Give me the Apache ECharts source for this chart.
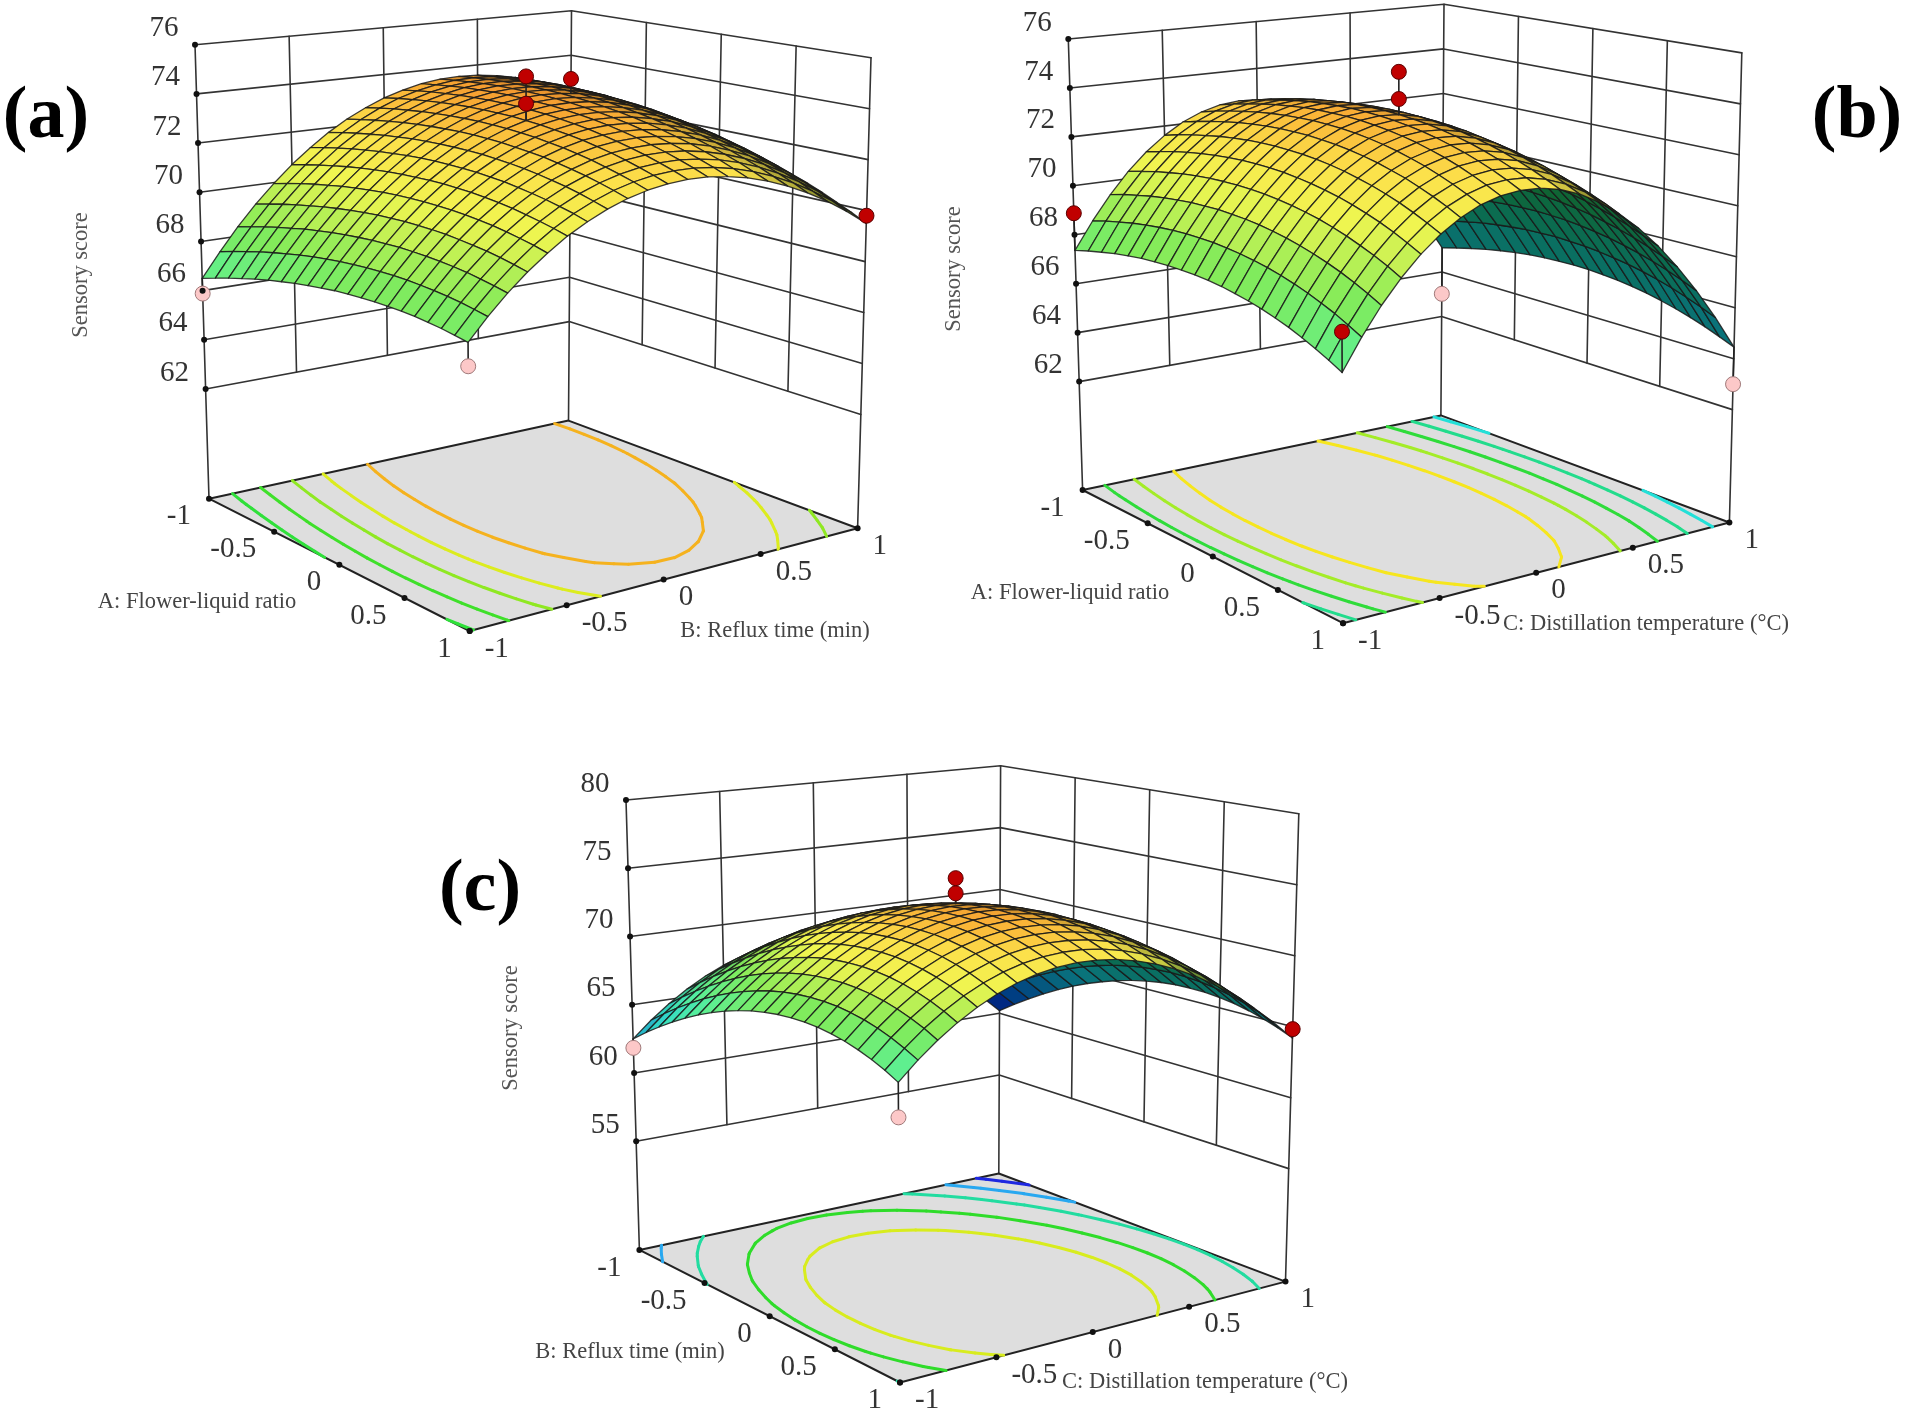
<!DOCTYPE html>
<html>
<head>
<meta charset="utf-8">
<script src="https://cdn.jsdelivr.net/npm/echarts@6/dist/echarts.min.js"></script>
<style>html,body{margin:0;padding:0;background:#fff}#main{width:1907px;height:1413px}</style>
</head>
<body>
<div id="main"></div>
<script>
const axisTicks = [-1, -0.5, 0, 0.5, 1];

// response surfaces, rows run along the first factor, columns along the second (-1 to 1, step 0.1)
const surfaceA = [
    [66.50, 67.47, 68.38, 69.21, 69.96, 70.65, 71.26, 71.81, 72.28, 72.67, 73.00, 73.25, 73.44, 73.55, 73.58, 73.55, 73.44, 73.27, 73.02, 72.69, 72.30],
    [66.70, 67.67, 68.56, 69.38, 70.13, 70.80, 71.41, 71.94, 72.40, 72.79, 73.11, 73.35, 73.52, 73.62, 73.65, 73.61, 73.49, 73.30, 73.04, 72.71, 72.31],
    [66.89, 67.84, 68.73, 69.54, 70.28, 70.94, 71.54, 72.06, 72.51, 72.89, 73.19, 73.43, 73.59, 73.68, 73.70, 73.65, 73.52, 73.32, 73.05, 72.71, 72.30],
    [67.06, 68.01, 68.88, 69.68, 70.41, 71.06, 71.65, 72.16, 72.60, 72.97, 73.27, 73.49, 73.65, 73.73, 73.74, 73.67, 73.54, 73.33, 73.05, 72.70, 72.28],
    [67.22, 68.15, 69.01, 69.80, 70.52, 71.17, 71.75, 72.25, 72.68, 73.04, 73.33, 73.54, 73.68, 73.76, 73.75, 73.68, 73.54, 73.32, 73.03, 72.67, 72.24],
    [67.36, 68.28, 69.14, 69.92, 70.63, 71.26, 71.83, 72.32, 72.74, 73.09, 73.37, 73.57, 73.71, 73.77, 73.76, 73.68, 73.52, 73.29, 73.00, 72.62, 72.18],
    [67.48, 68.40, 69.24, 70.01, 70.71, 71.34, 71.89, 72.38, 72.79, 73.13, 73.40, 73.59, 73.72, 73.77, 73.75, 73.65, 73.49, 73.25, 72.94, 72.56, 72.11],
    [67.59, 68.50, 69.33, 70.09, 70.78, 71.40, 71.95, 72.42, 72.82, 73.15, 73.41, 73.59, 73.71, 73.75, 73.72, 73.62, 73.44, 73.20, 72.88, 72.49, 72.03],
    [67.68, 68.58, 69.40, 70.16, 70.84, 71.44, 71.98, 72.44, 72.84, 73.16, 73.40, 73.58, 73.68, 73.72, 73.68, 73.56, 73.38, 73.12, 72.80, 72.40, 71.92],
    [67.76, 68.65, 69.46, 70.21, 70.88, 71.47, 72.00, 72.45, 72.84, 73.15, 73.39, 73.55, 73.65, 73.67, 73.62, 73.50, 73.30, 73.04, 72.70, 72.29, 71.81],
    [67.83, 68.70, 69.51, 70.24, 70.90, 71.49, 72.00, 72.45, 72.82, 73.12, 73.35, 73.51, 73.59, 73.60, 73.54, 73.41, 73.21, 72.93, 72.59, 72.17, 71.68],
    [67.87, 68.74, 69.53, 70.26, 70.91, 71.49, 71.99, 72.43, 72.79, 73.08, 73.30, 73.45, 73.52, 73.52, 73.46, 73.31, 73.10, 72.82, 72.46, 72.03, 71.53],
    [67.90, 68.76, 69.55, 70.26, 70.90, 71.47, 71.97, 72.39, 72.74, 73.03, 73.23, 73.37, 73.44, 73.43, 73.35, 73.20, 72.98, 72.68, 72.31, 71.87, 71.36],
    [67.92, 68.77, 69.54, 70.25, 70.88, 71.44, 71.92, 72.34, 72.68, 72.95, 73.15, 73.28, 73.34, 73.32, 73.23, 73.07, 72.84, 72.53, 72.16, 71.71, 71.19],
    [67.92, 68.76, 69.52, 70.22, 70.84, 71.39, 71.87, 72.27, 72.61, 72.87, 73.06, 73.17, 73.22, 73.19, 73.09, 72.92, 72.68, 72.37, 71.98, 71.52, 70.99],
    [67.91, 68.73, 69.49, 70.17, 70.79, 71.33, 71.79, 72.19, 72.51, 72.76, 72.94, 73.05, 73.09, 73.05, 72.94, 72.76, 72.51, 72.19, 71.79, 71.32, 70.78],
    [67.88, 68.69, 69.44, 70.11, 70.72, 71.25, 71.70, 72.09, 72.40, 72.65, 72.82, 72.91, 72.94, 72.89, 72.78, 72.59, 72.32, 71.99, 71.58, 71.11, 70.56],
    [67.83, 68.64, 69.38, 70.04, 70.63, 71.15, 71.60, 71.98, 72.28, 72.51, 72.67, 72.76, 72.78, 72.72, 72.59, 72.39, 72.12, 71.78, 71.36, 70.88, 70.32],
    [67.77, 68.57, 69.29, 69.95, 70.53, 71.04, 71.48, 71.85, 72.14, 72.36, 72.51, 72.59, 72.60, 72.53, 72.40, 72.19, 71.91, 71.55, 71.13, 70.63, 70.06],
    [67.69, 68.48, 69.20, 69.84, 70.42, 70.92, 71.35, 71.70, 71.99, 72.20, 72.34, 72.41, 72.41, 72.33, 72.18, 71.96, 71.67, 71.31, 70.87, 70.37, 69.79],
    [67.60, 68.38, 69.09, 69.72, 70.28, 70.78, 71.19, 71.54, 71.82, 72.02, 72.15, 72.21, 72.20, 72.11, 71.95, 71.72, 71.42, 71.05, 70.61, 70.09, 69.50]
];
const surfaceB = [
    [67.36, 68.46, 69.44, 70.30, 71.02, 71.61, 72.08, 72.41, 72.62, 72.70, 72.65, 72.47, 72.17, 71.73, 71.16, 70.47, 69.65, 68.70, 67.62, 66.41, 65.08],
    [67.53, 68.64, 69.62, 70.47, 71.19, 71.79, 72.25, 72.59, 72.80, 72.88, 72.83, 72.65, 72.35, 71.91, 71.35, 70.65, 69.83, 68.88, 67.80, 66.60, 65.26],
    [67.67, 68.78, 69.76, 70.62, 71.34, 71.94, 72.40, 72.74, 72.95, 73.03, 72.98, 72.81, 72.50, 72.07, 71.50, 70.81, 69.99, 69.04, 67.97, 66.76, 65.42],
    [67.80, 68.91, 69.89, 70.74, 71.47, 72.06, 72.53, 72.87, 73.08, 73.16, 73.12, 72.94, 72.64, 72.20, 71.64, 70.95, 70.13, 69.18, 68.10, 66.90, 65.56],
    [67.90, 69.01, 69.99, 70.85, 71.57, 72.17, 72.64, 72.98, 73.19, 73.27, 73.23, 73.05, 72.75, 72.31, 71.75, 71.06, 70.24, 69.30, 68.22, 67.02, 65.68],
    [67.98, 69.09, 70.07, 70.93, 71.65, 72.25, 72.72, 73.06, 73.27, 73.36, 73.31, 73.14, 72.83, 72.40, 71.84, 71.15, 70.33, 69.39, 68.31, 67.11, 65.78],
    [68.03, 69.15, 70.13, 70.99, 71.71, 72.31, 72.78, 73.12, 73.34, 73.42, 73.38, 73.20, 72.90, 72.47, 71.91, 71.22, 70.40, 69.46, 68.38, 67.18, 65.85],
    [68.06, 69.18, 70.16, 71.02, 71.75, 72.35, 72.82, 73.16, 73.38, 73.46, 73.42, 73.24, 72.94, 72.51, 71.95, 71.26, 70.45, 69.50, 68.43, 67.23, 65.90],
    [68.07, 69.19, 70.18, 71.03, 71.76, 72.36, 72.83, 73.18, 73.39, 73.48, 73.43, 73.26, 72.96, 72.53, 71.97, 71.29, 70.47, 69.53, 68.45, 67.25, 65.92],
    [68.06, 69.18, 70.16, 71.02, 71.75, 72.35, 72.83, 73.17, 73.39, 73.47, 73.43, 73.26, 72.96, 72.53, 71.97, 71.29, 70.47, 69.53, 68.46, 67.26, 65.93],
    [68.03, 69.14, 70.13, 70.99, 71.72, 72.32, 72.79, 73.14, 73.36, 73.44, 73.40, 73.23, 72.93, 72.50, 71.95, 71.26, 70.45, 69.51, 68.43, 67.23, 65.91],
    [67.97, 69.08, 70.07, 70.93, 71.66, 72.27, 72.74, 73.09, 73.30, 73.39, 73.35, 73.18, 72.88, 72.45, 71.90, 71.21, 70.40, 69.46, 68.39, 67.19, 65.86],
    [67.88, 69.00, 69.99, 70.85, 71.58, 72.19, 72.66, 73.01, 73.23, 73.32, 73.28, 73.11, 72.81, 72.38, 71.83, 71.14, 70.33, 69.39, 68.32, 67.12, 65.80],
    [67.78, 68.90, 69.89, 70.75, 71.48, 72.09, 72.56, 72.91, 73.13, 73.22, 73.18, 73.01, 72.71, 72.29, 71.73, 71.05, 70.24, 69.30, 68.23, 67.03, 65.71],
    [67.65, 68.77, 69.76, 70.63, 71.36, 71.96, 72.44, 72.79, 73.01, 73.10, 73.06, 72.89, 72.60, 72.17, 71.62, 70.94, 70.13, 69.19, 68.12, 66.92, 65.60],
    [67.50, 68.62, 69.61, 70.48, 71.21, 71.82, 72.29, 72.64, 72.86, 72.95, 72.92, 72.75, 72.46, 72.03, 71.48, 70.80, 69.99, 69.05, 67.98, 66.79, 65.46],
    [67.33, 68.45, 69.44, 70.31, 71.04, 71.65, 72.13, 72.48, 72.70, 72.79, 72.75, 72.59, 72.29, 71.87, 71.32, 70.64, 69.83, 68.89, 67.82, 66.63, 65.30],
    [67.13, 68.25, 69.25, 70.11, 70.85, 71.46, 71.93, 72.28, 72.51, 72.60, 72.56, 72.40, 72.10, 71.68, 71.13, 70.45, 69.64, 68.71, 67.64, 66.45, 65.12],
    [66.91, 68.04, 69.03, 69.90, 70.63, 71.24, 71.72, 72.07, 72.29, 72.39, 72.35, 72.19, 71.90, 71.47, 70.92, 70.24, 69.44, 68.50, 67.44, 66.24, 64.92],
    [66.67, 67.79, 68.79, 69.66, 70.39, 71.00, 71.48, 71.83, 72.06, 72.15, 72.12, 71.95, 71.66, 71.24, 70.69, 70.01, 69.21, 68.27, 67.21, 66.02, 64.69],
    [66.41, 67.53, 68.53, 69.39, 70.13, 70.74, 71.22, 71.58, 71.80, 71.89, 71.86, 71.70, 71.41, 70.99, 70.44, 69.76, 68.96, 68.02, 66.96, 65.77, 64.45]
];
const surfaceC = [
    [62.50, 63.66, 64.68, 65.57, 66.33, 66.95, 67.44, 67.79, 68.01, 68.10, 68.05, 67.87, 67.55, 67.10, 66.52, 65.80, 64.95, 63.96, 62.84, 61.59, 60.20],
    [63.32, 64.48, 65.50, 66.39, 67.15, 67.77, 68.26, 68.62, 68.84, 68.93, 68.88, 68.70, 68.39, 67.94, 67.36, 66.64, 65.79, 64.80, 63.69, 62.43, 61.05],
    [64.06, 65.23, 66.25, 67.15, 67.90, 68.53, 69.02, 69.38, 69.60, 69.69, 69.64, 69.47, 69.15, 68.71, 68.12, 67.41, 66.56, 65.58, 64.46, 63.21, 61.82],
    [64.74, 65.91, 66.94, 67.83, 68.59, 69.22, 69.71, 70.07, 70.29, 70.38, 70.34, 70.16, 69.85, 69.40, 68.82, 68.11, 67.26, 66.28, 65.17, 63.92, 62.53],
    [65.36, 66.52, 67.55, 68.45, 69.21, 69.84, 70.33, 70.69, 70.92, 71.01, 70.97, 70.79, 70.48, 70.04, 69.46, 68.75, 67.90, 66.92, 65.81, 64.56, 63.18],
    [65.90, 67.07, 68.10, 68.99, 69.76, 70.39, 70.88, 71.24, 71.47, 71.57, 71.53, 71.35, 71.04, 70.60, 70.02, 69.31, 68.47, 67.49, 66.38, 65.13, 63.75],
    [66.38, 67.54, 68.58, 69.48, 70.24, 70.87, 71.37, 71.73, 71.96, 72.06, 72.02, 71.84, 71.54, 71.10, 70.52, 69.81, 68.97, 67.99, 66.88, 65.64, 64.26],
    [66.78, 67.95, 68.99, 69.89, 70.65, 71.29, 71.79, 72.15, 72.38, 72.48, 72.44, 72.27, 71.96, 71.52, 70.95, 70.24, 69.40, 68.42, 67.32, 66.07, 64.69],
    [67.12, 68.29, 69.33, 70.23, 71.00, 71.63, 72.13, 72.50, 72.73, 72.83, 72.79, 72.62, 72.32, 71.88, 71.31, 70.60, 69.76, 68.79, 67.68, 66.44, 65.06],
    [67.40, 68.57, 69.61, 70.51, 71.28, 71.91, 72.41, 72.78, 73.02, 73.12, 73.08, 72.91, 72.61, 72.17, 71.60, 70.90, 70.06, 69.09, 67.98, 66.74, 65.37],
    [67.60, 68.77, 69.81, 70.72, 71.49, 72.13, 72.63, 73.00, 73.23, 73.33, 73.30, 73.13, 72.83, 72.40, 71.83, 71.13, 70.29, 69.32, 68.21, 66.97, 65.60],
    [67.74, 68.91, 69.95, 70.86, 71.63, 72.27, 72.77, 73.14, 73.38, 73.48, 73.45, 73.29, 72.99, 72.55, 71.98, 71.28, 70.45, 69.48, 68.38, 67.14, 65.77],
    [67.80, 68.98, 70.02, 70.93, 71.70, 72.34, 72.85, 73.22, 73.46, 73.56, 73.53, 73.37, 73.07, 72.64, 72.07, 71.37, 70.54, 69.57, 68.47, 67.23, 65.86],
    [67.80, 68.98, 70.03, 70.93, 71.71, 72.35, 72.86, 73.23, 73.47, 73.58, 73.55, 73.39, 73.09, 72.66, 72.10, 71.40, 70.56, 69.60, 68.50, 67.26, 65.89],
    [67.74, 68.92, 69.96, 70.87, 71.65, 72.29, 72.80, 73.18, 73.42, 73.52, 73.50, 73.34, 73.04, 72.61, 72.05, 71.35, 70.52, 69.56, 68.46, 67.22, 65.86],
    [67.60, 68.78, 69.83, 70.74, 71.52, 72.16, 72.67, 73.05, 73.29, 73.40, 73.38, 73.22, 72.92, 72.50, 71.93, 71.24, 70.41, 69.44, 68.35, 67.12, 65.75],
    [67.40, 68.58, 69.63, 70.54, 71.32, 71.97, 72.48, 72.86, 73.10, 73.21, 73.19, 73.03, 72.74, 72.31, 71.75, 71.06, 70.23, 69.27, 68.17, 66.94, 65.58],
    [67.12, 68.31, 69.36, 70.27, 71.05, 71.70, 72.22, 72.59, 72.84, 72.95, 72.93, 72.77, 72.48, 72.06, 71.50, 70.81, 69.98, 69.02, 67.93, 66.70, 65.33],
    [66.78, 67.97, 69.02, 69.94, 70.72, 71.37, 71.88, 72.27, 72.51, 72.63, 72.60, 72.45, 72.16, 71.74, 71.18, 70.49, 69.66, 68.71, 67.61, 66.39, 65.02],
    [66.38, 67.56, 68.62, 69.53, 70.32, 70.97, 71.49, 71.87, 72.12, 72.23, 72.21, 72.06, 71.77, 71.35, 70.79, 70.10, 69.28, 68.32, 67.23, 66.01, 64.65],
    [65.90, 67.09, 68.14, 69.06, 69.85, 70.50, 71.02, 71.40, 71.65, 71.77, 71.75, 71.60, 71.31, 70.89, 70.34, 69.65, 68.83, 67.87, 66.78, 65.56, 64.20]
];

const zTicksA = [62, 64, 66, 68, 70, 72, 74, 76];
const zTicksB = [62, 64, 66, 68, 70, 72, 74, 76];
const zTicksC = [55, 60, 65, 70, 75, 80];

const levelsA = [67.75, 69.1, 70.4, 71.45, 72.6];
const levelColorsA = ['#2fe03a', '#3fe02a', '#8fe822', '#dcec1e', '#f5b21e'];
const levelsB = [65.6, 67.15, 68.7, 70.2, 71.65];
const levelColorsB = ['#22e0d8', '#22dc8c', '#2fdc3a', '#a4ec28', '#f6e61e'];
const levelsC = [61.9, 63.9, 66.0, 68.5, 70.7];
const levelColorsC = ['#1e28e0', '#28a8f0', '#22dca0', '#2fdc2a', '#d8ec1e'];

// design points: first factor, second factor, score
const pointsA = [[0, 0, 74.02], [0, 0, 75.1], [-1, 1, 72.93], [1, 1, 69.8], [-1, -1, 65.88], [1, -1, 66.77]];
const pointsB = [[0, 0, 74.02], [0, 0, 75.1], [-1, -1, 68.88], [1, -1, 67.85], [-1, 1, 63.02], [1, 1, 63.0]];
const pointsC = [[0, 0, 74.02], [0, 0, 75.1], [1, 1, 64.83], [-1, -1, 61.84], [1, -1, 63.7]];

const colorZ = [60, 62.5, 64.5, 66.5, 68.5, 70.8, 72.2, 73.3, 74.2, 76];
const colorRGB = [[0, 0, 210], [30, 150, 200], [50, 220, 200], [90, 240, 150], [130, 235, 90], [240, 245, 80], [252, 225, 75], [250, 180, 55], [238, 130, 40], [220, 60, 20]];
// colours of the underside of the surface
const underZ = [60, 62, 65, 67, 70, 73];
const underRGB = [[0, 0, 130], [0, 60, 130], [10, 115, 125], [10, 110, 90], [15, 100, 50], [50, 90, 20]];

const panels = [
    {
        surface: surfaceA, points: pointsA, zTicks: zTicksA, levels: levelsA, levelColors: levelColorsA, zMin: 57.54, zMax: 76,
        floor: [[209, 498.7], [469.7, 631], [857.6, 528.2], [568.5, 420.6]],
        top: [[195, 44.7], [466.7, 101.5], [871, 57.7], [571.5, 10.8]],
        xName: 'A: Flower-liquid ratio', xNamePos: [197, 602], yName: 'B: Reflux time (min)', yNamePos: [775, 631], zNamePos: [81, 275],
        tag: '(a)', tagPos: [46, 118]
    },
    {
        surface: surfaceB, points: pointsB, zTicks: zTicksB, levels: levelsB, levelColors: levelColorsB, zMin: 57.57, zMax: 76,
        floor: [[1082.6, 490], [1343, 623.2], [1729.4, 522.5], [1440.9, 415.4]],
        top: [[1068.3, 39], [1341.2, 100.6], [1741.8, 52.9], [1444, 4.3]],
        xName: 'A: Flower-liquid ratio', xNamePos: [1070, 593], yName: 'C: Distillation temperature (°C)', yNamePos: [1646, 624], zNamePos: [954, 269],
        tag: '(b)', tagPos: [1857, 118]
    },
    {
        surface: surfaceC, points: pointsC, zTicks: zTicksC, levels: levelsC, levelColors: levelColorsC, zMin: 47.04, zMax: 80,
        floor: [[639.4, 1249.9], [900, 1382.5], [1285.5, 1281.6], [998.8, 1173.5]],
        top: [[626, 800], [897, 858], [1298.8, 813.8], [1000.6, 765.8]],
        xName: 'B: Reflux time (min)', xNamePos: [630, 1352], yName: 'C: Distillation temperature (°C)', yNamePos: [1205, 1382], zNamePos: [511, 1028],
        tag: '(c)', tagPos: [480, 891]
    }
];

const FONT = '"Liberation Serif", serif';
const LINE = '#333';

// unit square -> quad, the source plots space their ticks evenly so this stays bilinear
function quadMap(q) {
    return function (u, v) {
        return [0, 1].map(k => (1 - u) * (1 - v) * q[0][k] + u * (1 - v) * q[1][k] + u * v * q[2][k] + (1 - u) * v * q[3][k]);
    };
}

function ramp(z, stops, colors) {
    if (z <= stops[0]) return colors[0];
    for (let i = 1; i < stops.length; i++) {
        if (z <= stops[i]) {
            let t = (z - stops[i - 1]) / (stops[i] - stops[i - 1]);
            return colors[i].map((c, k) => colors[i - 1][k] + (c - colors[i - 1][k]) * t);
        }
    }
    return colors[colors.length - 1];
}

function rgb(c, f) {
    return 'rgb(' + c.map(v => Math.min(255, Math.round(v * f))).join(',') + ')';
}

// every shape keeps pixel positions, the custom series pushes them through the axes
function shapeSeries(shapes) {
    return {
        type: 'custom',
        coordinateSystem: 'cartesian2d',
        silent: true,
        clip: false,
        progressive: 0,
        animation: false,
        data: shapes.map((s, i) => [i]),
        renderItem: function (params, api) {
            let s = shapes[params.dataIndex];
            if (s.kind === 'text') {
                let p = api.coord(s.pos);
                return {
                    type: 'text', x: p[0], y: p[1], rotation: s.rotation || 0,
                    style: {text: s.text, font: s.font, fill: s.fill, textAlign: s.align || 'center', textVerticalAlign: 'middle'}
                };
            }
            if (s.kind === 'circle') {
                let p = api.coord(s.pos);
                return {type: 'circle', shape: {cx: p[0], cy: p[1], r: s.r}, style: {fill: s.fill, stroke: s.stroke, lineWidth: s.lineWidth}};
            }
            let points = s.pts.map(p => api.coord(p));
            return {
                type: s.kind, shape: {points: points},
                style: {fill: s.kind === 'polygon' ? s.fill : null, stroke: s.stroke, lineWidth: s.lineWidth, lineCap: 'round', lineJoin: 'round'}
            };
        }
    };
}

function buildPanel(p) {
    let floorMap = quadMap(p.floor), topMap = quadMap(p.top);
    let n = p.surface.length;
    function project(a, b, z) {
        let u = (a + 1) / 2, v = (b + 1) / 2, t = (z - p.zMin) / (p.zMax - p.zMin);
        let f = floorMap(u, v), c = topMap(u, v);
        return [f[0] + (c[0] - f[0]) * t, f[1] + (c[1] - f[1]) * t];
    }
    let gridOf = i => -1 + 2 * i / (n - 1);
    let lowZ = p.zTicks[0], highZ = p.zTicks[p.zTicks.length - 1];

    // walls
    let walls = [];
    p.zTicks.forEach(z => {
        walls.push({kind: 'polyline', pts: [project(-1, -1, z), project(-1, 1, z), project(1, 1, z)], stroke: LINE, lineWidth: 1.6});
    });
    [-0.5, 0, 0.5].forEach(t => {
        walls.push({kind: 'polyline', pts: [project(-1, t, lowZ), project(-1, t, highZ)], stroke: LINE, lineWidth: 1.6});
        walls.push({kind: 'polyline', pts: [project(t, 1, lowZ), project(t, 1, highZ)], stroke: LINE, lineWidth: 1.6});
    });
    [[-1, -1], [-1, 1], [1, 1]].forEach(c => {
        walls.push({kind: 'polyline', pts: [project(c[0], c[1], p.zMin), project(c[0], c[1], highZ)], stroke: LINE, lineWidth: 1.6});
    });

    // floor and contours
    let floor = [{
        kind: 'polygon', pts: [project(-1, -1, p.zMin), project(1, -1, p.zMin), project(1, 1, p.zMin), project(-1, 1, p.zMin)],
        fill: '#dedede', stroke: '#222', lineWidth: 2
    }];
    let contours = [];
    p.levels.forEach((lev, k) => {
        for (let i = 0; i < n - 1; i++) {
            for (let j = 0; j < n - 1; j++) {
                let c = [[i, j], [i + 1, j], [i + 1, j + 1], [i, j + 1]];
                let cross = [];
                for (let e = 0; e < 4; e++) {
                    let s = c[e], t = c[(e + 1) % 4];
                    let zs = p.surface[s[0]][s[1]], zt = p.surface[t[0]][t[1]];
                    if ((zs >= lev) !== (zt >= lev)) {
                        let f = (lev - zs) / (zt - zs);
                        cross.push(project(gridOf(s[0] + (t[0] - s[0]) * f), gridOf(s[1] + (t[1] - s[1]) * f), p.zMin));
                    }
                }
                for (let m = 0; m + 1 < cross.length; m += 2) {
                    contours.push({kind: 'polyline', pts: [cross[m], cross[m + 1]], stroke: p.levelColors[k], lineWidth: 3});
                }
            }
        }
    });

    // surface cells, far corner first
    let cells = [];
    let zScale = 2.1 / (p.zMax - p.zMin), step = 2 / (n - 1);
    for (let i = 0; i < n - 1; i++) {
        for (let j = n - 2; j >= 0; j--) {
            let z00 = p.surface[i][j], z10 = p.surface[i + 1][j], z11 = p.surface[i + 1][j + 1], z01 = p.surface[i][j + 1];
            let pts = [project(gridOf(i), gridOf(j), z00), project(gridOf(i + 1), gridOf(j), z10), project(gridOf(i + 1), gridOf(j + 1), z11), project(gridOf(i), gridOf(j + 1), z01)];
            let area = 0;
            for (let k = 0; k < 4; k++) {
                let q = pts[k], r = pts[(k + 1) % 4];
                area += q[0] * r[1] - r[0] * q[1];
            }
            let zMean = (z00 + z10 + z11 + z01) / 4;
            let fill;
            if (area > 0) {
                fill = rgb(ramp(zMean, underZ, underRGB), 1);
            } else {
                let dA = (z10 + z11 - z00 - z01) / 2 / step * zScale, dB = (z01 + z11 - z00 - z10) / 2 / step * zScale;
                let ndv = (0.67 * -dA + 0.67 * dB + 0.33) / Math.sqrt(dA * dA + dB * dB + 1);
                fill = rgb(ramp(zMean, colorZ, colorRGB), Math.min(1, 0.3 + 2 * Math.max(0, ndv)));
            }
            cells.push({kind: 'polygon', pts: pts, fill: fill, stroke: 'rgba(25,25,25,0.85)', lineWidth: 1.3});
        }
    }

    // pins and design points
    let pins = [], dots = [];
    p.points.forEach(d => {
        let i = Math.round((d[0] + 1) / 2 * (n - 1)), j = Math.round((d[1] + 1) / 2 * (n - 1));
        let zs = p.surface[i][j], above = d[2] > zs;
        pins.push({kind: 'polyline', pts: [project(d[0], d[1], zs), project(d[0], d[1], d[2])], stroke: '#222', lineWidth: 1.6});
        dots.push({
            kind: 'circle', pos: project(d[0], d[1], d[2]), r: 7.5,
            fill: above ? '#c00000' : '#fcc8c8', stroke: above ? '#5a0000' : '#a07a7a', lineWidth: 1
        });
    });

    // ticks and text
    let marks = [];
    let tickFont = '29px ' + FONT, nameFont = '22.5px ' + FONT;
    p.zTicks.forEach(z => {
        let q = project(-1, -1, z);
        marks.push({kind: 'circle', pos: q, r: 3, fill: '#111', stroke: '#111', lineWidth: 0});
        marks.push({kind: 'text', pos: [q[0] - 31, q[1] - 16], text: String(z), font: tickFont, fill: '#333'});
    });
    axisTicks.forEach(t => {
        let q = project(t, -1, p.zMin);
        marks.push({kind: 'circle', pos: q, r: 3, fill: '#111', stroke: '#111', lineWidth: 0});
        marks.push({kind: 'text', pos: [q[0] - 18, q[1] + 18], text: String(t), font: tickFont, fill: '#333', align: 'right'});
        q = project(1, t, p.zMin);
        marks.push({kind: 'circle', pos: q, r: 3, fill: '#111', stroke: '#111', lineWidth: 0});
        marks.push({kind: 'text', pos: [q[0] + 15, q[1] + 18], text: String(t), font: tickFont, fill: '#333', align: 'left'});
    });
    marks.push({kind: 'text', pos: p.xNamePos, text: p.xName, font: nameFont, fill: '#444'});
    marks.push({kind: 'text', pos: p.yNamePos, text: p.yName, font: nameFont, fill: '#444'});
    marks.push({kind: 'text', pos: p.zNamePos, text: 'Sensory score', font: nameFont, fill: '#555', rotation: Math.PI / 2});
    marks.push({kind: 'text', pos: p.tagPos, text: p.tag, font: 'bold 74px ' + FONT, fill: '#000'});

    return [walls, floor, contours, cells, pins, dots, marks].map(shapeSeries);
}

let chart = echarts.init(document.getElementById('main'));
let series = [];
panels.forEach(p => { series = series.concat(buildPanel(p)); });
chart.setOption({
    animation: false,
    backgroundColor: '#fff',
    grid: {left: 0, right: 0, top: 0, bottom: 0},
    xAxis: {type: 'value', min: 0, max: 1907, show: false},
    yAxis: {type: 'value', min: 0, max: 1413, inverse: true, show: false},
    series: series
});
</script>
</body>
</html>
